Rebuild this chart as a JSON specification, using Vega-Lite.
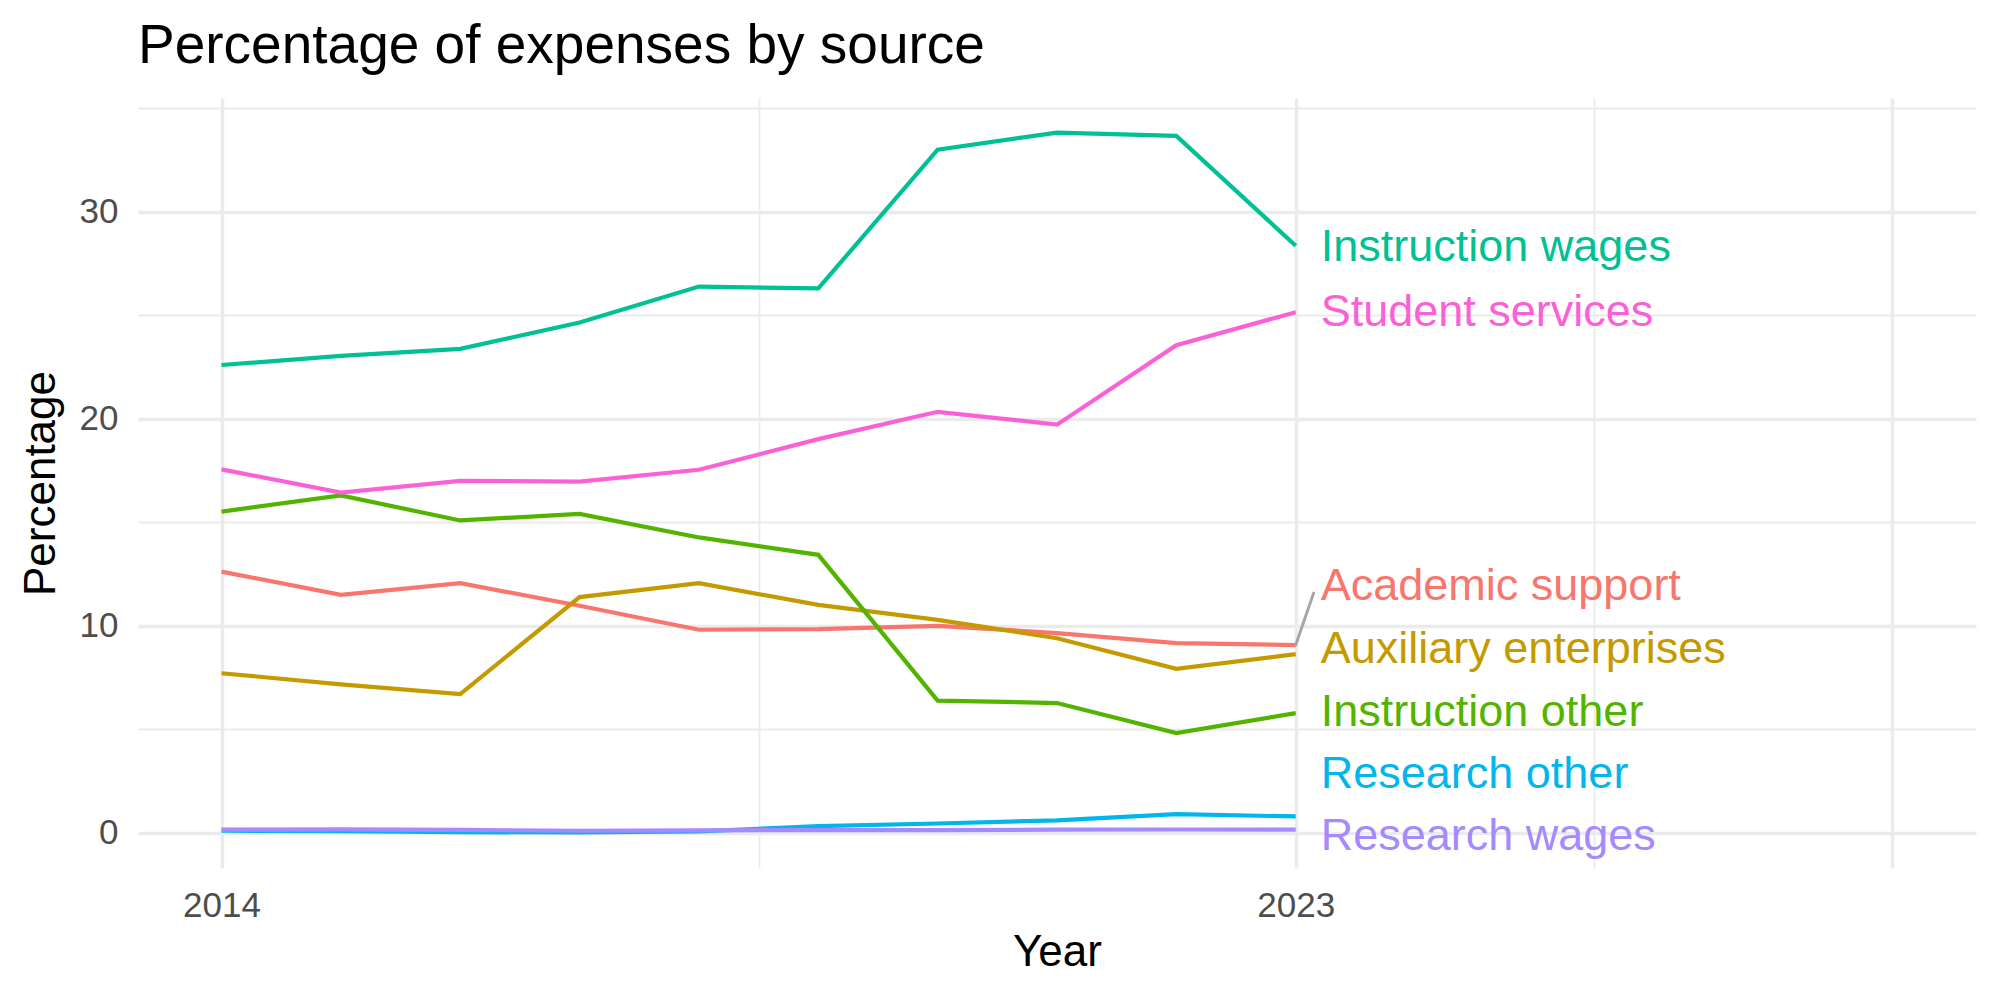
{
  "$schema": "https://vega.github.io/schema/vega-lite/v6.json",
  "autosize": {"type": "none"},
  "width": 1838,
  "height": 770,
  "padding": {"left": 138, "top": 98, "right": 24, "bottom": 132},
  "background": "white",
  "config": {
    "view": {"stroke": null},
    "font": "Liberation Sans"
  },
  "title": {
    "text": "Percentage of expenses by source",
    "anchor": "start",
    "frame": "group",
    "fontSize": 55,
    "fontWeight": "normal",
    "color": "#000000",
    "baseline": "alphabetic",
    "offset": 35,
    "dy": 55
  },
  "datasets": {
    "expenses": [
      {"Year": 2014, "Source": "Academic support", "Percentage": 12.62},
      {"Year": 2015, "Source": "Academic support", "Percentage": 11.5},
      {"Year": 2016, "Source": "Academic support", "Percentage": 12.06},
      {"Year": 2017, "Source": "Academic support", "Percentage": 10.97},
      {"Year": 2018, "Source": "Academic support", "Percentage": 9.81},
      {"Year": 2019, "Source": "Academic support", "Percentage": 9.84},
      {"Year": 2020, "Source": "Academic support", "Percentage": 10.0},
      {"Year": 2021, "Source": "Academic support", "Percentage": 9.65},
      {"Year": 2022, "Source": "Academic support", "Percentage": 9.16},
      {"Year": 2023, "Source": "Academic support", "Percentage": 9.07},
      {"Year": 2014, "Source": "Auxiliary enterprises", "Percentage": 7.71},
      {"Year": 2015, "Source": "Auxiliary enterprises", "Percentage": 7.17},
      {"Year": 2016, "Source": "Auxiliary enterprises", "Percentage": 6.7},
      {"Year": 2017, "Source": "Auxiliary enterprises", "Percentage": 11.39},
      {"Year": 2018, "Source": "Auxiliary enterprises", "Percentage": 12.06},
      {"Year": 2019, "Source": "Auxiliary enterprises", "Percentage": 11.01},
      {"Year": 2020, "Source": "Auxiliary enterprises", "Percentage": 10.29},
      {"Year": 2021, "Source": "Auxiliary enterprises", "Percentage": 9.4},
      {"Year": 2022, "Source": "Auxiliary enterprises", "Percentage": 7.92},
      {"Year": 2023, "Source": "Auxiliary enterprises", "Percentage": 8.63},
      {"Year": 2014, "Source": "Instruction other", "Percentage": 15.52},
      {"Year": 2015, "Source": "Instruction other", "Percentage": 16.3},
      {"Year": 2016, "Source": "Instruction other", "Percentage": 15.09},
      {"Year": 2017, "Source": "Instruction other", "Percentage": 15.41},
      {"Year": 2018, "Source": "Instruction other", "Percentage": 14.27},
      {"Year": 2019, "Source": "Instruction other", "Percentage": 13.43},
      {"Year": 2020, "Source": "Instruction other", "Percentage": 6.39},
      {"Year": 2021, "Source": "Instruction other", "Percentage": 6.27},
      {"Year": 2022, "Source": "Instruction other", "Percentage": 4.82},
      {"Year": 2023, "Source": "Instruction other", "Percentage": 5.78},
      {"Year": 2014, "Source": "Instruction wages", "Percentage": 22.6},
      {"Year": 2015, "Source": "Instruction wages", "Percentage": 23.04},
      {"Year": 2016, "Source": "Instruction wages", "Percentage": 23.38},
      {"Year": 2017, "Source": "Instruction wages", "Percentage": 24.65},
      {"Year": 2018, "Source": "Instruction wages", "Percentage": 26.39},
      {"Year": 2019, "Source": "Instruction wages", "Percentage": 26.3},
      {"Year": 2020, "Source": "Instruction wages", "Percentage": 33.0},
      {"Year": 2021, "Source": "Instruction wages", "Percentage": 33.83},
      {"Year": 2022, "Source": "Instruction wages", "Percentage": 33.67},
      {"Year": 2023, "Source": "Instruction wages", "Percentage": 28.36},
      {"Year": 2014, "Source": "Research other", "Percentage": 0.1},
      {"Year": 2015, "Source": "Research other", "Percentage": 0.08},
      {"Year": 2016, "Source": "Research other", "Percentage": 0.03},
      {"Year": 2017, "Source": "Research other", "Percentage": 0.02},
      {"Year": 2018, "Source": "Research other", "Percentage": 0.07},
      {"Year": 2019, "Source": "Research other", "Percentage": 0.32},
      {"Year": 2020, "Source": "Research other", "Percentage": 0.45},
      {"Year": 2021, "Source": "Research other", "Percentage": 0.6},
      {"Year": 2022, "Source": "Research other", "Percentage": 0.9},
      {"Year": 2023, "Source": "Research other", "Percentage": 0.79},
      {"Year": 2014, "Source": "Research wages", "Percentage": 0.15},
      {"Year": 2015, "Source": "Research wages", "Percentage": 0.17},
      {"Year": 2016, "Source": "Research wages", "Percentage": 0.14},
      {"Year": 2017, "Source": "Research wages", "Percentage": 0.1},
      {"Year": 2018, "Source": "Research wages", "Percentage": 0.12},
      {"Year": 2019, "Source": "Research wages", "Percentage": 0.13},
      {"Year": 2020, "Source": "Research wages", "Percentage": 0.13},
      {"Year": 2021, "Source": "Research wages", "Percentage": 0.15},
      {"Year": 2022, "Source": "Research wages", "Percentage": 0.16},
      {"Year": 2023, "Source": "Research wages", "Percentage": 0.15},
      {"Year": 2014, "Source": "Student services", "Percentage": 17.56},
      {"Year": 2015, "Source": "Student services", "Percentage": 16.44},
      {"Year": 2016, "Source": "Student services", "Percentage": 17.0},
      {"Year": 2017, "Source": "Student services", "Percentage": 16.97},
      {"Year": 2018, "Source": "Student services", "Percentage": 17.54},
      {"Year": 2019, "Source": "Student services", "Percentage": 19.02},
      {"Year": 2020, "Source": "Student services", "Percentage": 20.34},
      {"Year": 2021, "Source": "Student services", "Percentage": 19.72},
      {"Year": 2022, "Source": "Student services", "Percentage": 23.56},
      {"Year": 2023, "Source": "Student services", "Percentage": 25.15}
    ],
    "endLabels": [
      {"Year": 2023, "Source": "Academic support", "LabelAt": 11.94},
      {"Year": 2023, "Source": "Auxiliary enterprises", "LabelAt": 8.88},
      {"Year": 2023, "Source": "Instruction other", "LabelAt": 5.85},
      {"Year": 2023, "Source": "Instruction wages", "LabelAt": 28.31},
      {"Year": 2023, "Source": "Research other", "LabelAt": 2.84},
      {"Year": 2023, "Source": "Research wages", "LabelAt": -0.17},
      {"Year": 2023, "Source": "Student services", "LabelAt": 25.16}
    ],
    "connectors": [
      {"Source": "Academic support", "Year": 2023, "Percentage": 9.07, "EndYear": 2023.15, "EndPercentage": 11.58}
    ]
  },
  "layer": [
    {
      "data": {"name": "expenses"},
      "mark": {"type": "line", "strokeWidth": 4.2},
      "encoding": {
        "x": {
          "field": "Year",
          "type": "quantitative",
          "title": "Year",
          "scale": {"domain": [2013.3, 2028.7], "nice": false, "zero": false},
          "axis": {
            "values": [2014, 2018.5, 2023, 2025.5, 2028],
            "format": "d",
            "labelExpr": "(datum.value == 2014 || datum.value == 2023) ? datum.label : ''",
            "domain": false,
            "ticks": false,
            "labelPadding": 20,
            "labelFontSize": 35,
            "labelColor": "#4D4D4D",
            "labelFont": "Liberation Sans",
            "grid": true,
            "gridColor": "#EBEBEB",
            "gridWidth": {"condition": {"test": "datum.value == 2018.5 || datum.value == 2025.5", "value": 1.8}, "value": 3.5},
            "titleFontSize": 44,
            "titleFontWeight": "normal",
            "titleColor": "#000000",
            "titleFont": "Liberation Sans",
            "titlePadding": 7
          }
        },
        "y": {
          "field": "Percentage",
          "type": "quantitative",
          "title": "Percentage",
          "scale": {"domain": [-1.7, 35.5], "nice": false, "zero": false},
          "axis": {
            "values": [0, 5, 10, 15, 20, 25, 30, 35],
            "labelExpr": "(datum.value % 10 == 0) ? datum.label : ''",
            "domain": false,
            "ticks": false,
            "labelPadding": 20,
            "labelFontSize": 35,
            "labelColor": "#4D4D4D",
            "labelFont": "Liberation Sans",
            "grid": true,
            "gridColor": "#EBEBEB",
            "gridWidth": {"condition": {"test": "datum.value % 10 != 0", "value": 1.8}, "value": 3.5},
            "titleFontSize": 44,
            "titleFontWeight": "normal",
            "titleColor": "#000000",
            "titleFont": "Liberation Sans",
            "titlePadding": 16
          }
        },
        "color": {
          "field": "Source",
          "type": "nominal",
          "legend": null,
          "scale": {
            "domain": ["Academic support", "Auxiliary enterprises", "Instruction other", "Instruction wages", "Research other", "Research wages", "Student services"],
            "range": ["#F8766D", "#C49A00", "#53B400", "#00C094", "#00B6EB", "#A58AFF", "#FB61D7"]
          }
        }
      }
    },
    {
      "data": {"name": "connectors"},
      "mark": {"type": "rule", "color": "#A6A6A6", "strokeWidth": 3, "strokeCap": "round"},
      "encoding": {
        "x": {"field": "Year", "type": "quantitative"},
        "y": {"field": "Percentage", "type": "quantitative"},
        "x2": {"field": "EndYear"},
        "y2": {"field": "EndPercentage"}
      }
    },
    {
      "data": {"name": "endLabels"},
      "mark": {"type": "text", "align": "left", "baseline": "middle", "dx": 25, "fontSize": 45, "font": "Liberation Sans"},
      "encoding": {
        "x": {"field": "Year", "type": "quantitative"},
        "y": {"field": "LabelAt", "type": "quantitative"},
        "text": {"field": "Source"},
        "color": {"field": "Source", "type": "nominal", "legend": null}
      }
    }
  ]
}
